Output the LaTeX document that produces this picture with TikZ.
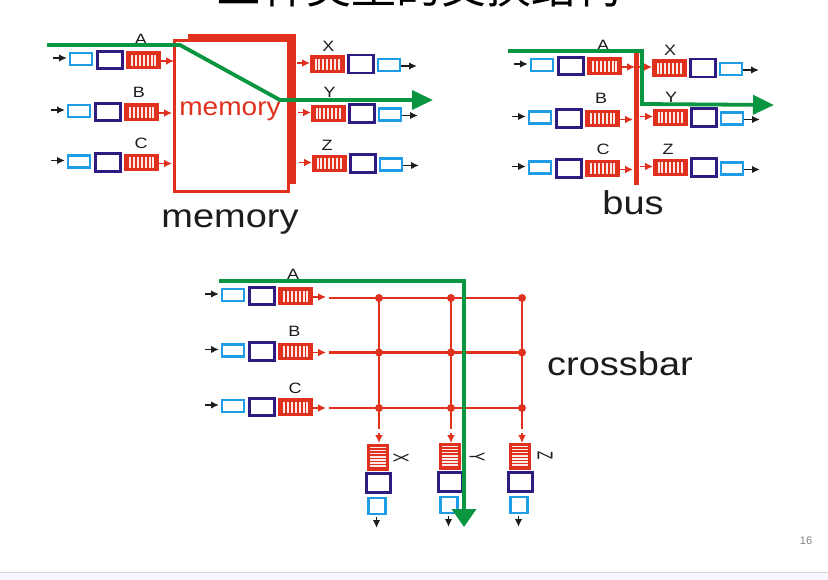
\documentclass[tikz,border=0pt]{standalone}
\usepackage{graphicx}
\usepackage{fontspec}
\setmainfont{Liberation Sans}
\newfontfamily\cjkfont{Noto Sans CJK SC}
\usetikzlibrary{arrows.meta}
\definecolor{fabricred}{HTML}{E0301E}
\definecolor{portblue}{HTML}{1E9CE6}
\definecolor{portpurple}{HTML}{2E1A80}
\definecolor{pathgreen}{HTML}{0A9640}
\definecolor{inkdark}{HTML}{1C1C1C}
\tikzset{
  x=1pt, y=-1pt,
  bluebox/.style={draw=portblue, line width=2.4pt, fill=white, inner sep=0pt, outer sep=0pt},
  purplebox/.style={draw=portpurple, line width=2.8pt, fill=white, inner sep=0pt, outer sep=0pt},
  hqueue/.style={fill=fabricred, inner sep=0pt, outer sep=0pt, minimum width=35pt, minimum height=17.5pt,
    path picture={\foreach \k in {0,...,6}
      \fill[white!90!fabricred] ([xshift={5pt+\k*3.9pt},yshift=3.2pt]path picture bounding box.south west)
        rectangle ++(2pt,11pt);}},
  vqueue/.style={fill=fabricred, inner sep=0pt, outer sep=0pt, minimum width=22.5pt, minimum height=27.5pt,
    path picture={\foreach \k in {0,...,6}
      \fill[white!90!fabricred] ([xshift=3.5pt,yshift={4.4pt+\k*3.1pt}]path picture bounding box.south west)
        rectangle ++(15.5pt,1.6pt);}},
  blackarrow/.style={draw=inkdark, line width=1.6pt, -{Latex[length=8pt,width=7.5pt]}},
  redarrow/.style={draw=fabricred, line width=1.6pt, -{Latex[length=8pt,width=8pt]}},
  redline/.style={draw=fabricred, line width=2.2pt},
  greenpath/.style={draw=pathgreen, line width=3.8pt, line join=miter},
  portlabel/.style={text=inkdark, inner sep=0pt, anchor=base, xscale=1.2, transform shape, font=\fontsize{15}{15}\selectfont},
  sidelabel/.style={text=inkdark, inner sep=0pt, rotate=-90, font=\fontsize{15}{15}\selectfont},
  caption/.style={text=inkdark, inner sep=0pt, anchor=base, xscale=1.15, transform shape, font=\fontsize{33}{34}\selectfont},
  junction/.style={circle, fill=fabricred, inner sep=0pt, minimum size=8pt},
}
% input port: feed arrow, buffer, processor, queue, output arrow
\newcommand{\inport}[3]{%
  \coordinate (#1feed) at ({#2-16},{#3-1});
  \node[bluebox, minimum width=22pt, minimum height=12pt] (#1b) at ({#2+12},{#3}) {};
  \node[purplebox, minimum width=25.5pt, minimum height=17.5pt] (#1p) at ({#2+41},{#3+1}) {};
  \node[hqueue] (#1q) at ({#2+74.5},{#3+1}) {};
  \coordinate (#1out) at ({#2+105},{#3+2});
  \draw[blackarrow] (#1feed) -- ({#2-2},{#3-1});
  \draw[redarrow] ({#2+91},{#3+2}) -- (#1out);
}
% output port: incoming arrow, queue, processor, buffer, leaving arrow
\newcommand{\outport}[3]{%
  \coordinate (#1in) at ({#2-13},{#3-1});
  \node[hqueue] (#1q) at ({#2+17},{#3}) {};
  \node[purplebox, minimum width=25.5pt, minimum height=18pt] (#1p) at ({#2+51},{#3}) {};
  \node[bluebox, minimum width=22pt, minimum height=12pt] (#1b) at ({#2+79},{#3+1}) {};
  \coordinate (#1end) at ({#2+107},{#3+2});
  \draw[redarrow] (#1in) -- ({#2},{#3-1});
  \draw[blackarrow] ({#2+91},{#3+2}) -- (#1end);
}
% vertical output port of the crossbar
\newcommand{\downport}[3]{%
  \node[vqueue] (#1q) at ({#2},{#3+13.5}) {};
  \node[purplebox, minimum width=24.5pt, minimum height=19.5pt] (#1p) at ({#2+0.5},{#3+39}) {};
  \node[bluebox, minimum width=17pt, minimum height=16pt] (#1b) at ({#2-1},{#3+62}) {};
  \coordinate (#1end) at ({#2-1.5},{#3+84});
  \draw[blackarrow] ({#2-1.5},{#3+72.5}) -- (#1end);
}
\begin{document}
\begin{tikzpicture}
\clip (0,0) rectangle (828,580);
\fill[white] (0,0) rectangle (828,580);
\fill[color=blue!3!white] (0,572) rectangle (828,580);
\draw[color=blue!15!gray!30!white, line width=0.8pt] (0,572) -- (828,572);

% title
\node[anchor=base, inner sep=0pt, text=black, font=\cjkfont\fontsize{45}{45}\selectfont] (title) at (419,4) {三种类型的交换结构};

% ---- switching via memory ----
\node[fill=fabricred, inner sep=0pt, minimum width=108pt, minimum height=150pt] (memback) at (242,109) {};
\node[draw=fabricred, line width=2.6pt, fill=white, inner sep=0pt, outer sep=0pt, minimum width=114.5pt, minimum height=151.5pt] (mem) at (231.5,116) {};
\node[text=fabricred, anchor=base, inner sep=0pt, xscale=1.1, transform shape, font=\fontsize{25.5}{26}\selectfont] (memtext) at (230,116) {memory};
\inport{ma}{69}{59}
\inport{mb}{67}{111}
\inport{mc}{67}{161.5}
\outport{mx}{310}{64}
\outport{my}{311}{113.5}
\outport{mz}{312}{163.5}
\node[portlabel] (mla) at (141,45) {A};
\node[portlabel] (mlb) at (139,98) {B};
\node[portlabel] (mlc) at (141,149) {C};
\node[portlabel] (mlx) at (328.5,52) {X};
\node[portlabel] (mly) at (329.5,98) {Y};
\node[portlabel] (mlz) at (327,151) {Z};
\node[caption] (memcap) at (230,228) {memory};
\coordinate (mg0) at (47,45);
\coordinate (mg1) at (180,45);
\coordinate (mg2) at (280,100);
\coordinate (mg3) at (433,100);
\draw[greenpath, -{Triangle[length=21pt,width=19pt]}] (mg0) -- (mg1) -- (mg2) -- (mg3);

% ---- switching via a bus ----
\node[fill=fabricred, inner sep=0pt, minimum width=5pt, minimum height=132pt] (busbar) at (636.5,119) {};
\inport{ba}{530}{65}
\inport{bb}{528}{117.5}
\inport{bc}{528}{167.5}
\outport{bx}{652}{68}
\outport{by}{653}{117.5}
\outport{bz}{653}{167.5}
\node[portlabel] (bla) at (603,51) {A};
\node[portlabel] (blb) at (601,104) {B};
\node[portlabel] (blc) at (603,155) {C};
\node[portlabel] (blx) at (670,56) {X};
\node[portlabel] (bly) at (671,103) {Y};
\node[portlabel] (blz) at (668,155) {Z};
\node[caption] (buscap) at (633,215) {bus};
\coordinate (bg0) at (508,51);
\coordinate (bg1) at (642,51);
\coordinate (bg2) at (642,104);
\coordinate (bg3) at (774,105);
\draw[greenpath, -{Triangle[length=21pt,width=19pt]}] (bg0) -- (bg1) -- (bg2) -- (bg3);

% ---- switching via a crossbar ----
\inport{ca}{221}{295}
\inport{cb}{221}{350.5}
\inport{cc}{221}{406}
\foreach \r/\yy in {a/298,b/352.5,c/408}{
  \coordinate (r\r) at (329,\yy);
  \node[junction] (\r x) at (379,\yy) {};
  \node[junction] (\r y) at (451,\yy) {};
  \node[junction] (\r z) at (522,\yy) {};
  \draw[redline] (r\r) -- (\r x.center) -- (\r y.center) -- (\r z.center);
}
\downport{cx}{378}{444}
\downport{cy}{450}{443}
\downport{cz}{520}{443}
\foreach \c/\xx in {x/379,y/451,z/522}{
  \coordinate (stop\c) at (\xx,429);
  \coordinate (tip\c) at (\xx,433);
  \draw[redline] (a\c.center) -- (b\c.center) -- (c\c.center) -- (stop\c);
  \draw[redarrow] (tip\c) -- (\xx,443);
}
\node[portlabel] (cla) at (293,280) {A};
\node[portlabel] (clb) at (294.5,337) {B};
\node[portlabel] (clc) at (295,393) {C};
\node[sidelabel] (clx) at (401,458) {\scalebox{0.9}[1.45]{X}};
\node[sidelabel] (cly) at (477,457.5) {\scalebox{0.9}[1.45]{Y}};
\node[sidelabel] (clz) at (545,455.5) {\scalebox{0.9}[1.45]{Z}};
\node[caption] (crosscap) at (620,375) {crossbar};
\coordinate (cg0) at (219,281);
\coordinate (cg1) at (464,281);
\coordinate (cg2) at (464,527);
\draw[greenpath, -{Triangle[length=18pt,width=24pt]}] (cg0) -- (cg1) -- (cg2);

% slide number
\node[text=black!50, inner sep=0pt, font=\fontsize{11}{12}\selectfont] (pageno) at (806,541) {16};
\end{tikzpicture}
\end{document}
